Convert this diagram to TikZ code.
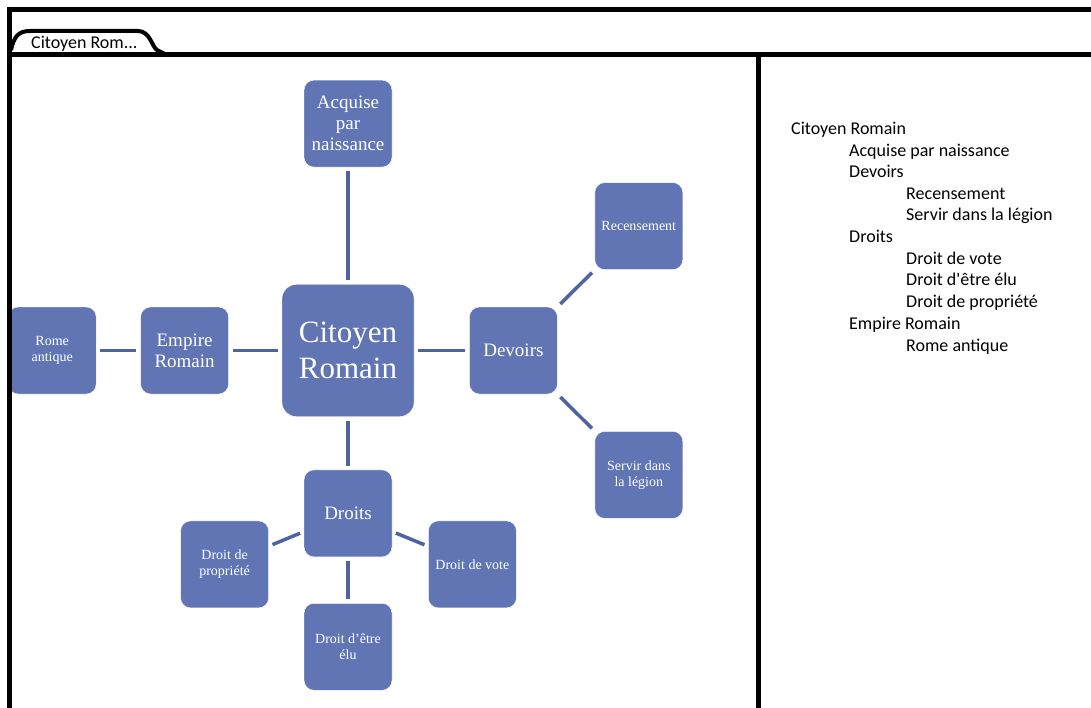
\documentclass[tikz,border=0pt]{standalone}
\usepackage{fontspec}
\setmainfont{Liberation Serif}
\newfontfamily\outlinefont{Carlito}
\usetikzlibrary{positioning}
\definecolor{boxblue}{HTML}{6175B5}
\definecolor{linkblue}{HTML}{4E63A3}
\tikzset{
  bigbox/.style   = {rectangle, rounded corners=14pt, draw=white, thin,
                     fill=boxblue, text=white, align=center, inner sep=2pt,
                     minimum width=132pt, minimum height=132pt,
                     font=\fontsize{31}{36}\selectfont},
  midbox/.style   = {rectangle, rounded corners=10pt, draw=white, thin,
                     fill=boxblue, text=white, align=center, inner sep=2pt,
                     minimum width=88pt, minimum height=87pt,
                     font=\fontsize{19}{21}\selectfont},
  smallbox/.style = {midbox, font=\fontsize{14}{16}\selectfont},
  link/.style     = {draw=linkblue, line width=3.5pt,
                     shorten <=4pt, shorten >=4pt},
  frame/.style    = {line width=5pt, black},
  outline/.style  = {anchor=base west, inner sep=0pt,
                     font=\outlinefont\fontsize{18}{21}\selectfont},
}

\begin{document}
\begin{tikzpicture}[x=1pt, y=-1pt]
\useasboundingbox (0,0) rectangle (1091,708);
\clip (0,0) rectangle (1091,708);

% Mind map: the citizen in the middle, branches around it
\node (citoyen) [bigbox] at (348,350.5) {Citoyen\\Romain};
\node (acquise) [midbox, above=117pt of citoyen] {Acquise\\par\\naissance};
\node (devoirs) [midbox, right=55pt of citoyen] {Devoirs};
\node (empire) [midbox, left=53pt of citoyen] {Empire\\Romain};
\node (droits) [midbox, below=53pt of citoyen] {Droits};

% Second level
\node (rome) [smallbox, left=44pt of empire] {Rome\\antique};
\node (recens) [smallbox, above right=37pt and 37pt of devoirs] {Recensement};
\node (legion) [smallbox, below right=37pt and 37pt of devoirs] {Servir dans\\la légion};
\node (propriete) [smallbox, left=35pt of droits, yshift=-51pt] {Droit de\\propriété};
\node (vote) [smallbox, right=36pt of droits, yshift=-51pt] {Droit de vote};
\node (elu) [smallbox, below=46pt of droits] {Droit d’être\\élu};

\draw [link] (citoyen) -- (acquise);
\draw [link] (citoyen) -- (devoirs);
\draw [link] (citoyen) -- (empire);
\draw [link] (citoyen) -- (droits);
\draw [link] (empire) -- (rome);
\draw [link] (devoirs) -- (recens);
\draw [link] (devoirs) -- (legion);
\draw [link] (droits) -- (propriete);
\draw [link] (droits) -- (vote);
\draw [link] (droits) -- (elu);

% Window frame and tab
\draw [frame] (9,708) -- (9,9.5) -- (1091,9.5);
\draw [frame] (9,55) -- (1091,55);
\draw [frame] (758.5,55) -- (758.5,708);
\draw [line width=4pt] (11,50) .. controls (14,37) and (18,31) .. (30,31)
  -- (138,31) .. controls (150,31) and (152,47) .. (157,50) -- (165,54);
\node (tab) [outline] at (31,49) {Citoyen Rom...};

% Text outline on the right
\node (o1) [outline] at (791,135) {Citoyen Romain};
\node (o2) [outline] at (849,157) {Acquise par naissance};
\node (o3) [outline] at (849,178) {Devoirs};
\node (o4) [outline] at (906,200) {Recensement};
\node (o5) [outline] at (906,221) {Servir dans la légion};
\node (o6) [outline] at (849,243) {Droits};
\node (o7) [outline] at (906,265) {Droit de vote};
\node (o8) [outline] at (906,286) {Droit d'être élu};
\node (o9) [outline] at (906,308) {Droit de propriété};
\node (o10) [outline] at (849,329) {Empire Romain};
\node (o11) [outline] at (906,351) {Rome antique};

\end{tikzpicture}
\end{document}
